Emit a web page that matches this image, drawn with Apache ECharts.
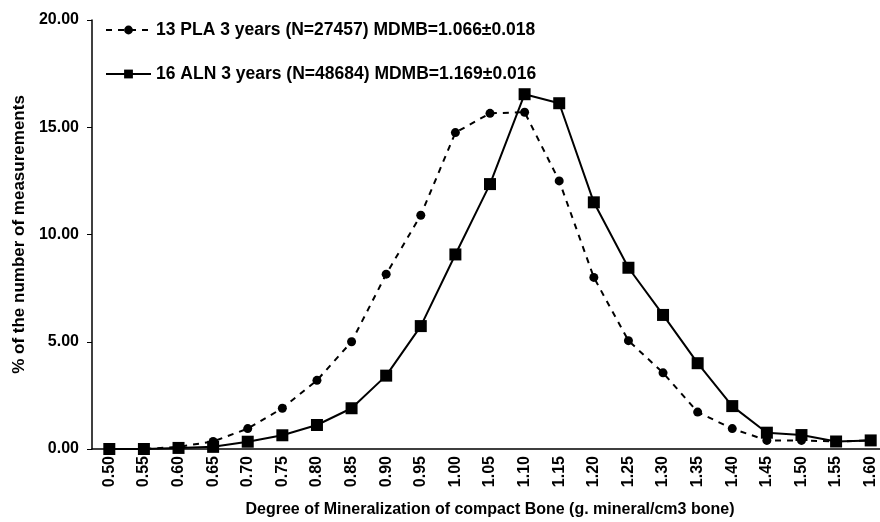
<!DOCTYPE html>
<html>
<head>
<meta charset="utf-8">
<script src="https://cdn.jsdelivr.net/npm/echarts@6/dist/echarts.min.js"></script>
<style>
  html, body { margin: 0; padding: 0; background: #fff; }
  #chart { width: 880px; height: 522px; }
</style>
</head>
<body>
<div id="chart"></div>
<script>
// DMB classes (g mineral / cm3 bone)
const categories = ["0.50", "0.55", "0.60", "0.65", "0.70", "0.75", "0.80", "0.85", "0.90", "0.95",
  "1.00", "1.05", "1.10", "1.15", "1.20", "1.25", "1.30", "1.35", "1.40", "1.45", "1.50", "1.55", "1.60"];

const plaValues = [0.0, 0.0, 0.1, 0.35, 0.95, 1.9, 3.2, 5.0, 8.15, 10.9,
  14.75, 15.65, 15.7, 12.5, 8.0, 5.05, 3.55, 1.72, 0.95, 0.4, 0.4, 0.35, 0.4];
const alnValues = [0.0, 0.0, 0.05, 0.1, 0.34, 0.64, 1.12, 1.9, 3.42, 5.73,
  9.07, 12.35, 16.54, 16.12, 11.5, 8.45, 6.25, 4.0, 2.0, 0.76, 0.65, 0.35, 0.4];

const plaName = "13 PLA 3 years (N=27457) MDMB=1.066±0.018";
const alnName = "16 ALN 3 years (N=48684) MDMB=1.169±0.016";

const chart = echarts.init(document.getElementById("chart"));
const font = "Arial, 'Liberation Sans', sans-serif";

const option = {
  animation: false,
  textStyle: { fontFamily: font, color: "#000" },
  // last class runs a bit past the right edge in the original scan
  grid: { left: 92, width: 796, top: 20, bottom: 73, outerBoundsMode: "none", containLabel: false },
  legend: {
    orient: "vertical",
    left: 100,
    top: 16,
    itemWidth: 45,
    itemHeight: 11,
    itemGap: 26,
    textStyle: { fontFamily: font, fontSize: 17.5, fontWeight: "bold", color: "#000" },
    data: [plaName, alnName]
  },
  xAxis: {
    type: "category",
    data: categories,
    boundaryGap: true,
    name: "Degree of Mineralization of compact Bone (g. mineral/cm3 bone)",
    nameLocation: "middle",
    nameGap: 53,
    nameTextStyle: { fontSize: 16, fontWeight: "bold", color: "#000" },
    axisLine: { lineStyle: { color: "#000", width: 1.5 } },
    axisTick: { length: 5, lineStyle: { color: "#000" } },
    axisLabel: { rotate: 90, fontSize: 16, fontWeight: "bold", color: "#000", margin: 7 }
  },
  yAxis: {
    type: "value",
    min: 0,
    max: 20,
    interval: 5,
    name: "% of the number of measurements",
    nameLocation: "middle",
    nameGap: 56,
    nameTextStyle: { fontSize: 17, fontWeight: "bold", color: "#000" },
    splitLine: { show: false },
    axisLine: { show: true, lineStyle: { color: "#000", width: 1.5 } },
    axisTick: { show: true, length: 5, lineStyle: { color: "#000" } },
    axisLabel: {
      fontSize: 16, fontWeight: "bold", color: "#000", margin: 13,
      formatter: v => v.toFixed(2)
    }
  },
  series: [
    {
      name: plaName,
      type: "line",
      data: plaValues,
      symbol: "circle",
      symbolSize: 9,
      itemStyle: { color: "#000" },
      lineStyle: { color: "#000", width: 2, type: [6, 6] },
      z: 3
    },
    {
      name: alnName,
      type: "line",
      data: alnValues,
      symbol: "rect",
      symbolSize: 12,
      itemStyle: { color: "#000" },
      lineStyle: { color: "#000", width: 2 },
      z: 4
    }
  ]
};

chart.setOption(option);
</script>
</body>
</html>
